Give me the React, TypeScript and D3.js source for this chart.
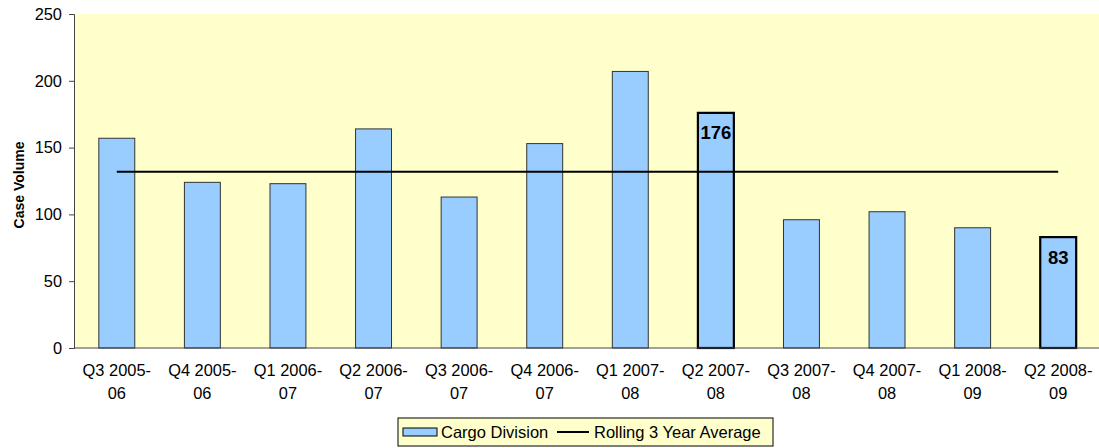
import { useEffect, useRef } from 'react';
import * as d3 from 'd3';

const quarters = [
  'Q3 2005-06', 'Q4 2005-06', 'Q1 2006-07', 'Q2 2006-07', 'Q3 2006-07', 'Q4 2006-07',
  'Q1 2007-08', 'Q2 2007-08', 'Q3 2007-08', 'Q4 2007-08', 'Q1 2008-09', 'Q2 2008-09',
];
const cargoDivision = [157, 124, 123, 164, 113, 153, 207, 176, 96, 102, 90, 83];
const rollingAverage = [132, 132, 132, 132, 132, 132, 132, 132, 132, 132, 132, 132];
const highlighted = ['Q2 2007-08', 'Q2 2008-09'];
const yTicks = [0, 50, 100, 150, 200, 250];

export default function App() {
  const svgRef = useRef<SVGSVGElement>(null);

  useEffect(() => {
    const width = 1099;
    const height = 448;
    const margin = { top: 14, right: -2, bottom: 100, left: 74 };
    const font = 'Liberation Sans, Arial, sans-serif';

    const svg = d3.select(svgRef.current);
    svg.selectAll('*').remove();

    const x = d3
      .scaleBand()
      .domain(quarters)
      .range([margin.left, width - margin.right])
      .paddingInner(0.58)
      .paddingOuter(0.29);

    const y = d3
      .scaleLinear()
      .domain([0, 250])
      .range([height - margin.bottom, margin.top]);

    // plot background
    svg
      .append('rect')
      .attr('x', margin.left)
      .attr('y', margin.top)
      .attr('width', width - margin.right - margin.left)
      .attr('height', y(0) - margin.top)
      .attr('fill', '#FFFFCC');

    // bars
    svg
      .selectAll('.bar')
      .data(quarters)
      .enter()
      .append('rect')
      .attr('class', 'bar')
      .attr('x', (d) => x(d)!)
      .attr('y', (d, i) => y(cargoDivision[i]))
      .attr('width', x.bandwidth())
      .attr('height', (d, i) => y(0) - y(cargoDivision[i]))
      .attr('fill', '#99CCFF')
      .attr('stroke', (d) => (highlighted.includes(d) ? '#000' : '#333'))
      .attr('stroke-width', (d) => (highlighted.includes(d) ? 2.2 : 1));

    // value labels on highlighted bars
    svg
      .selectAll('.val')
      .data(quarters.filter((q) => highlighted.includes(q)))
      .enter()
      .append('text')
      .attr('x', (d) => x(d)! + x.bandwidth() / 2)
      .attr('y', (d) => y(cargoDivision[quarters.indexOf(d)]) + 20)
      .attr('dy', '0.35em')
      .attr('text-anchor', 'middle')
      .attr('font-family', font)
      .attr('font-size', '18.5px')
      .attr('font-weight', 'bold')
      .attr('fill', '#000')
      .text((d) => cargoDivision[quarters.indexOf(d)]);

    // rolling average line
    const line = d3
      .line<number>()
      .x((d, i) => x(quarters[i])! + x.bandwidth() / 2)
      .y((d) => y(d));

    svg
      .append('path')
      .datum(rollingAverage)
      .attr('d', line)
      .attr('fill', 'none')
      .attr('stroke', '#000')
      .attr('stroke-width', 2);

    // y axis
    const yAxis = svg
      .append('g')
      .attr('transform', `translate(${margin.left},0)`)
      .call(d3.axisLeft(y).tickValues(yTicks).tickSize(5).tickPadding(7));
    yAxis.select('.domain').attr('stroke', '#444');
    yAxis.selectAll('.tick line').attr('stroke', '#444');
    yAxis
      .selectAll('text')
      .attr('font-family', font)
      .attr('font-size', '16.4px')
      .attr('fill', '#000');

    // x axis line
    svg
      .append('line')
      .attr('x1', margin.left)
      .attr('x2', width - margin.right)
      .attr('y1', y(0))
      .attr('y2', y(0))
      .attr('stroke', '#444');

    // x labels, two lines
    const xl = svg
      .selectAll('.xl')
      .data(quarters)
      .enter()
      .append('text')
      .attr('class', 'xl')
      .attr('text-anchor', 'middle')
      .attr('font-family', font)
      .attr('font-size', '16.4px')
      .attr('fill', '#000');
    xl.append('tspan')
      .attr('x', (d) => x(d)! + x.bandwidth() / 2)
      .attr('y', 376)
      .text((d) => d.split('-')[0] + '-');
    xl.append('tspan')
      .attr('x', (d) => x(d)! + x.bandwidth() / 2)
      .attr('y', 399)
      .text((d) => d.split('-')[1]);

    // y title
    svg
      .append('text')
      .attr('transform', `translate(24, ${(margin.top + y(0)) / 2 + 4}) rotate(-90)`)
      .attr('text-anchor', 'middle')
      .attr('font-family', font)
      .attr('font-size', '14px')
      .attr('font-weight', 'bold')
      .text('Case Volume');

    // legend
    const legend = svg.append('g').attr('transform', 'translate(398, 418)');
    legend
      .append('rect')
      .attr('width', 375)
      .attr('height', 28)
      .attr('fill', '#FFFFCC')
      .attr('stroke', '#000');
    legend
      .append('rect')
      .attr('x', 5)
      .attr('y', 10)
      .attr('width', 34)
      .attr('height', 8)
      .attr('fill', '#99CCFF')
      .attr('stroke', '#000');
    legend
      .append('text')
      .attr('x', 43)
      .attr('y', 20)
      .attr('font-family', font)
      .attr('font-size', '16.5px')
      .text('Cargo Division');
    legend
      .append('line')
      .attr('x1', 159)
      .attr('x2', 191)
      .attr('y1', 14)
      .attr('y2', 14)
      .attr('stroke', '#000')
      .attr('stroke-width', 2);
    legend
      .append('text')
      .attr('x', 196)
      .attr('y', 20)
      .attr('font-family', font)
      .attr('font-size', '16.5px')
      .text('Rolling 3 Year Average');
  }, []);

  return (
    <svg
      ref={svgRef}
      width={1099}
      height={448}
      style={{ position: 'absolute', left: 0, top: 0, background: '#fff' }}
    />
  );
}
